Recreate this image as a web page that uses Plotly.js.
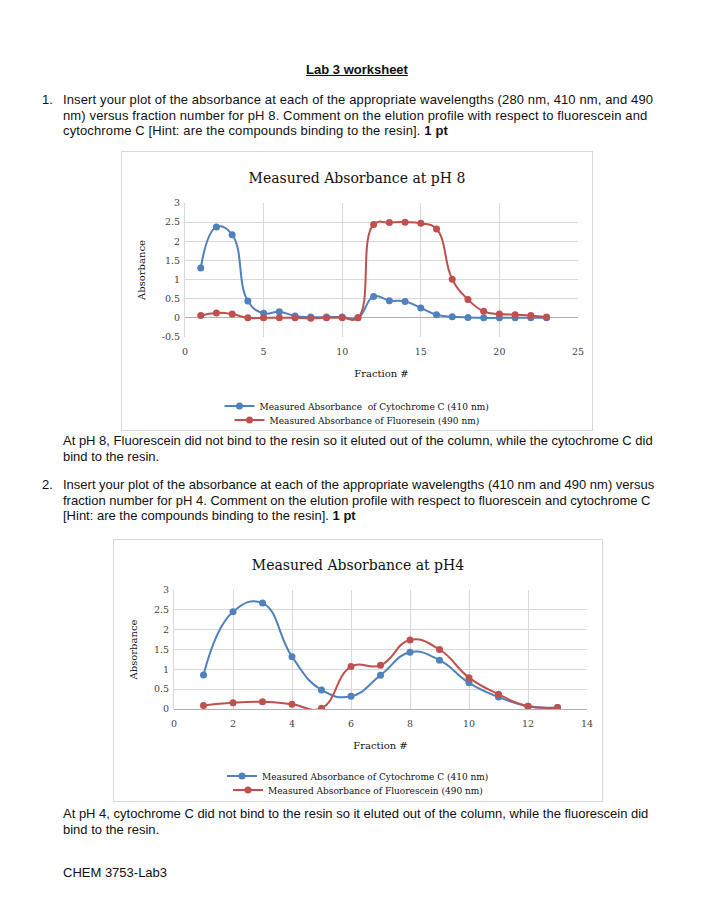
<!DOCTYPE html>
<html>
<head>
<meta charset="utf-8">
<script src="https://cdn.plot.ly/plotly-3.0.1.min.js"></script>
<style>
  html, body { margin:0; padding:0; background:#fff; }
  body { width:714px; height:918px; position:relative; overflow:hidden;
         font-family:"Liberation Sans", Arial, sans-serif; font-size:13px; color:#111; }
  .t { position:absolute; white-space:nowrap; line-height:15.5px; letter-spacing:0; }
  .wide { letter-spacing:0.13px; }
  .chart { position:absolute; box-sizing:border-box; border:1px solid #d9d9d9; background:#fff; }
</style>
</head>
<body>
<div class="t" style="left:0;width:714px;text-align:center;top:62px;font-weight:bold;text-decoration:underline;">Lab 3 worksheet</div>

<div class="t" style="left:42px;top:92px;">1.</div>
<div class="t wide" style="left:63px;top:92px;">Insert your plot of the absorbance at each of the appropriate wavelengths (280 nm, 410 nm, and 490<br>nm) versus fraction number for pH 8. Comment on the elution profile with respect to fluorescein and<br>cytochrome C [Hint: are the compounds binding to the resin]. <b>1 pt</b></div>

<div id="c1" class="chart" style="left:121px;top:151px;width:472px;height:280px;"></div>

<div class="t" style="left:63px;top:433px;">At pH 8, Fluorescein did not bind to the resin so it eluted out of the column, while the cytochrome C did<br>bind to the resin.</div>

<div class="t" style="left:42px;top:477px;">2.</div>
<div class="t" style="left:63px;top:477px;">Insert your plot of the absorbance at each of the appropriate wavelengths (410 nm and 490 nm) versus<br>fraction number for pH 4. Comment on the elution profile with respect to fluorescein and cytochrome C<br>[Hint: are the compounds binding to the resin]. <b>1 pt</b></div>

<div id="c2" class="chart" style="left:113px;top:539px;width:490px;height:263px;"></div>

<div class="t" style="left:63px;top:806px;">At pH 4, cytochrome C did not bind to the resin so it eluted out of the column, while the fluorescein did<br>bind to the resin.</div>

<div class="t" style="left:63px;top:865px;">CHEM 3753-Lab3</div>

<script>
// ---- pH 8 data ----
const fraction8 = [1,2,3,4,5,6,7,8,9,10,11,12,13,14,15,16,17,18,19,20,21,22,23];
const cyto8 = [1.30,2.37,2.17,0.44,0.12,0.16,0.05,0.02,0.02,0.02,0.00,0.56,0.45,0.43,0.26,0.08,0.03,0.01,0.00,0.00,0.00,0.00,0.00];
const fluor8 = [0.06,0.13,0.10,0.00,0.00,0.00,0.00,-0.01,0.00,0.00,0.00,2.44,2.49,2.50,2.47,2.32,1.01,0.48,0.17,0.10,0.08,0.06,0.02];
const name8Cyto = "Measured Absorbance  of Cytochrome C (410 nm)";
const name8Fluor = "Measured Absorbance of Fluoresein (490 nm)";
const title8 = "Measured Absorbance at pH 8";
const xTicks8 = [0,5,10,15,20,25];
const yTicks8 = [-0.5,0,0.5,1,1.5,2,2.5,3];

// ---- pH 4 data ----
const fraction4 = [1,2,3,4,5,6,7,8,9,10,11,12,13];
const cyto4 = [0.86,2.45,2.67,1.32,0.48,0.32,0.85,1.43,1.23,0.66,0.30,0.07,0.04];
const fluor4 = [0.09,0.16,0.18,0.12,0.02,1.07,1.10,1.74,1.50,0.79,0.37,0.07,0.04];
const name4Cyto = "Measured Absorbance of Cytochrome C (410 nm)";
const name4Fluor = "Measured Absorbance of Fluorescein (490 nm)";
const title4 = "Measured Absorbance at pH4";
const xTicks4 = [0,2,4,6,8,10,12,14];
const yTicks4 = [0,0.5,1,1.5,2,2.5,3];

const BLUE = "#4f81bd", RED = "#c0504d";
const SERIF = "DejaVu Serif, Liberation Serif, serif";

function trace(x, y, name, color, legend) {
  return { x: x, y: y, name: name, type: "scatter", mode: "lines+markers", legend: legend,
    line: { color: color, width: 2, shape: "spline", smoothing: 1.3 },
    marker: { color: color, size: 7 }, cliponaxis: true };
}

function legendDef(yc) {
  return { orientation: "v", x: 0.5, xref: "container", xanchor: "center", y: yc, yref: "container",
           yanchor: "middle", font: { family: SERIF, size: 9, color: "#111" }, bgcolor: "rgba(0,0,0,0)",
           itemwidth: 30, tracegroupgap: 0 };
}

function layout(o) {
  return {
    width: o.w, height: o.h, paper_bgcolor: "#fff", plot_bgcolor: "#fff",
    margin: { l: o.l, r: o.r, t: o.t, b: o.b, pad: 0, autoexpand: false },
    showlegend: true,
    title: { text: o.title, font: { family: SERIF, size: 14, color: "#111" },
             x: 0.5, xref: "container", y: o.titleY, yref: "container", yanchor: "middle" },
    xaxis: { range: o.xr, tickvals: o.xt, ticktext: o.xt.map(String), showgrid: true,
             gridcolor: "#d9d9d9", gridwidth: 1, zeroline: false, showline: false,
             ticks: "", ticklen: 0, ticklabelstandoff: 7, tickfont: { family: SERIF, size: 9.5, color: "#444" },
             title: { text: "Fraction #", font: { family: SERIF, size: 10, color: "#111" }, standoff: o.xstand },
             fixedrange: true, automargin: false },
    yaxis: { range: o.yr, tickvals: o.yt, ticktext: o.yt.map(String), showgrid: true,
             gridcolor: "#d9d9d9", gridwidth: 1, zeroline: true, zerolinecolor: "#b0b0b0", zerolinewidth: 1,
             showline: true, linecolor: "#d9d9d9", ticks: "", ticklabelstandoff: 2,
             tickfont: { family: SERIF, size: 9.5, color: "#444" },
             title: { text: "Absorbance", font: { family: SERIF, size: 10, color: "#111" }, standoff: o.ystand },
             fixedrange: true, automargin: false },
    legend: legendDef(o.leg1),
    legend2: legendDef(o.leg2),
    hovermode: false
  };
}

Plotly.newPlot("c1", [
  trace(fraction8, cyto8, name8Cyto, BLUE, "legend"),
  trace(fraction8, fluor8, name8Fluor, RED, "legend2")
], layout({ w: 470, h: 278, l: 63, r: 14, t: 51, b: 93, title: title8, titleY: 1 - 26/278,
            xr: [0,25], yr: [-0.5,3], xt: xTicks8, yt: yTicks8, xstand: 14, ystand: 14,
            leg1: 1 - 254/278, leg2: 1 - 268/278 }),
  { staticPlot: true, displayModeBar: false });

Plotly.newPlot("c2", [
  trace(fraction4, cyto4, name4Cyto, BLUE, "legend"),
  trace(fraction4, fluor4, name4Fluor, RED, "legend2")
], layout({ w: 488, h: 261, l: 60, r: 15, t: 50, b: 92, title: title4, titleY: 1 - 25/261,
            xr: [0,14], yr: [0,3], xt: xTicks4, yt: yTicks4, xstand: 14, ystand: 14,
            leg1: 1 - 236/261, leg2: 1 - 250/261 }),
  { staticPlot: true, displayModeBar: false });
</script>
</body>
</html>
